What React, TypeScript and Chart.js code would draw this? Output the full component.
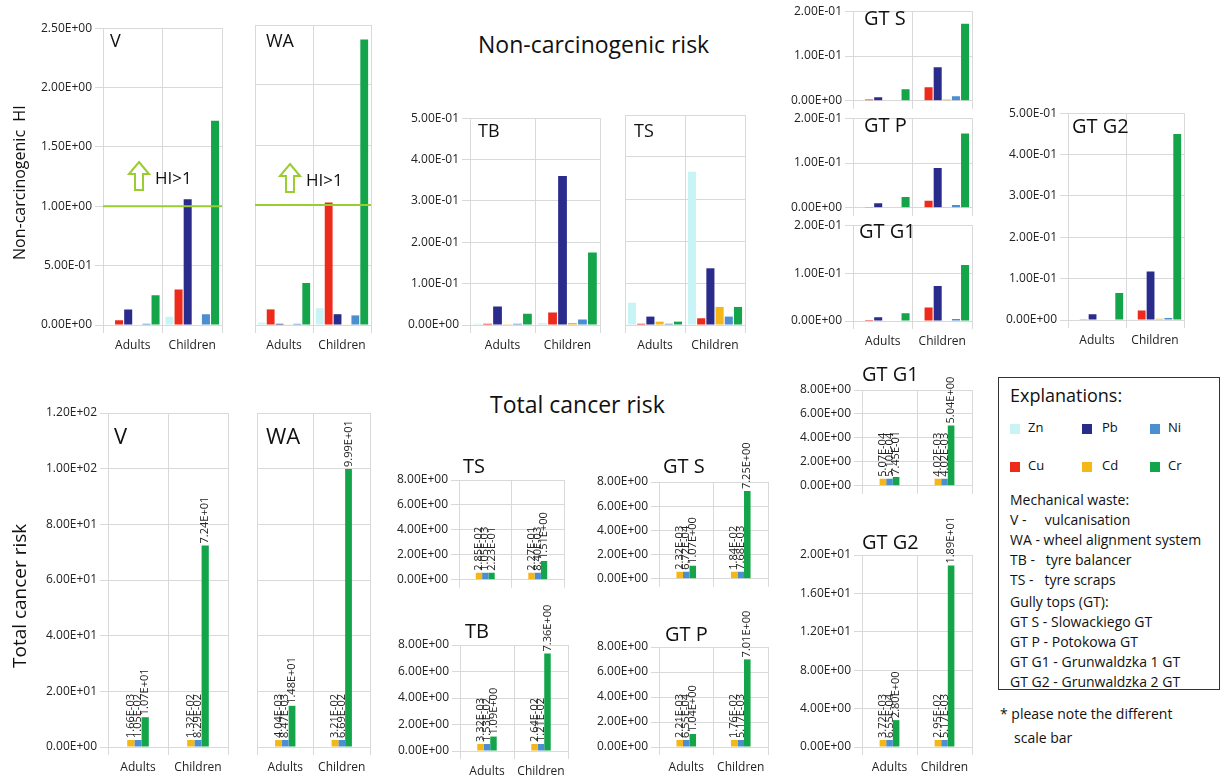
import { useEffect, useRef } from 'react';
import Chart from 'chart.js/auto';

const groups = ['Adults', 'Children'];

// non-carcinogenic metals, in bar order
const hiMetals = ['Zn', 'Cu', 'Pb', 'Cd', 'Ni', 'Cr'];
const crMetals = ['Cd', 'Ni', 'Cr'];
const colors: Record<string, string> = {
  Zn: '#c9f4f6', Cu: '#ee2a1b', Pb: '#2a2c8c', Cd: '#f5b618', Ni: '#4b8fd0', Cr: '#14a54a',
};

// HI values [adults], [children]  (Zn, Cu, Pb, Cd, Ni, Cr)
const hiV = [[0, 0.04, 0.13, 0.005, 0.01, 0.25], [0.07, 0.3, 1.06, 0.005, 0.09, 1.72]];
const hiWA = [[0.02, 0.13, 0.01, 0.005, 0.01, 0.35], [0.14, 1.02, 0.09, 0.005, 0.08, 2.38]];
const hiTB = [[0.003, 0.003, 0.045, 0.002, 0.003, 0.027], [0.005, 0.03, 0.36, 0.005, 0.013, 0.175]];
const hiTS = [[0.053, 0.003, 0.02, 0.008, 0.003, 0.008], [0.365, 0.016, 0.135, 0.043, 0.02, 0.043]];
const hiGTS = [[0.001, 0.003, 0.008, 0.001, 0.001, 0.026], [0.001, 0.03, 0.075, 0.003, 0.01, 0.172]];
const hiGTP = [[0, 0.002, 0.01, 0, 0, 0.024], [0.001, 0.016, 0.089, 0.002, 0.006, 0.166]];
const hiGTG1 = [[0, 0.002, 0.008, 0, 0, 0.016], [0.001, 0.028, 0.073, 0, 0.004, 0.117]];
const hiGTG2 = [[0.001, 0.002, 0.014, 0.001, 0.001, 0.065], [0.002, 0.023, 0.117, 0.003, 0.005, 0.45]];

// cancer risk [adults], [children]  (Cd, Ni, Cr)
const crV = [[1.66e-3, 1.05e-2, 1.07e1], [1.32e-2, 8.29e-2, 7.24e1]];
const crWA = [[4.04e-3, 8.47e-3, 1.48e1], [3.21e-2, 6.69e-2, 9.99e1]];
const crTS = [[2.85e-2, 1.05e-3, 2.23e-1], [2.27e-1, 8.4e-3, 1.51]];
const crGTS = [[2.32e-3, 6.72e-4, 1.07], [1.84e-2, 7.68e-3, 7.25]];
const crTB = [[3.32e-3, 1.53e-2, 1.09], [2.64e-2, 1.21e-2, 7.36]];
const crGTP = [[2.21e-3, 6.55e-4, 1.04], [1.76e-2, 5.17e-3, 7.01]];
const crGTG1 = [[5.07e-4, 5.1e-4, 7.45e-1], [4.02e-3, 4.02e-3, 5.04]];
const crGTG2 = [[3.72e-3, 6.55e-4, 2.8], [2.95e-2, 5.17e-3, 1.89e1]];

const FONT = '"Open Sans", "Noto Sans", sans-serif';

function fmt(v: number) {
  const [m, e] = v.toExponential(2).split('e');
  const n = parseInt(e, 10);
  return m + 'E' + (n < 0 ? '-' : '+') + String(Math.abs(n)).padStart(2, '0');
}

const valueLabels = {
  id: 'valueLabels',
  afterDatasetsDraw(chart: any) {
    if (!chart.options.plugins.valueLabels?.display) return;
    const ctx = chart.ctx;
    ctx.save();
    ctx.font = '11px ' + FONT;
    ctx.fillStyle = '#222';
    ctx.textBaseline = 'middle';
    chart.data.datasets.forEach((ds: any, i: number) => {
      chart.getDatasetMeta(i).data.forEach((bar: any, j: number) => {
        ctx.save();
        ctx.translate(bar.x, bar.y - 2);
        ctx.rotate(-Math.PI / 2);
        ctx.fillText(fmt(ds.data[j]), 0, 0);
        ctx.restore();
      });
    });
    ctx.restore();
  },
};

const hiLine = {
  id: 'hiLine',
  afterDatasetsDraw(chart: any) {
    if (!chart.options.plugins.hiLine?.display) return;
    const y = chart.scales.y.getPixelForValue(1);
    const ctx = chart.ctx;
    ctx.save();
    ctx.strokeStyle = '#9acd32';
    ctx.lineWidth = 2;
    ctx.beginPath();
    ctx.moveTo(chart.chartArea.left, y);
    ctx.lineTo(chart.chartArea.right, y);
    ctx.stroke();
    ctx.restore();
  },
};

interface PanelProps {
  x: number; y: number; w: number; h: number;
  tickW: number; max: number; step: number;
  metals: string[]; values: number[][];
  showX?: boolean; cancer?: boolean; hi?: boolean;
}

function Panel({ x, y, w, h, tickW, max, step, metals, values, showX = true, cancer = false, hi = false }: PanelProps) {
  const ref = useRef<HTMLCanvasElement>(null);
  const padT = cancer ? 50 : 7;
  const padR = 3;
  const xH = showX ? 26 : 4;
  useEffect(() => {
    if (!ref.current) return;
    const chart = new Chart(ref.current, {
      type: 'bar',
      data: {
        labels: groups,
        datasets: metals.map((m, i) => ({
          label: m,
          data: [values[0][i], values[1][i]],
          backgroundColor: colors[m],
          borderColor: colors[m],
          minBarLength: cancer ? 7 : 0,
          categoryPercentage: cancer ? 0.36 : 0.92,
          barPercentage: cancer ? 1 : 0.88,
        })),
      },
      plugins: [valueLabels, hiLine],
      options: {
        animation: false,
        responsive: false,
        layout: { padding: { top: padT, right: padR, left: 0, bottom: 0 } },
        plugins: {
          legend: { display: false },
          tooltip: { enabled: false },
          valueLabels: { display: cancer },
          hiLine: { display: hi },
        } as any,
        scales: {
          x: {
            grid: { color: '#d9d9d9', offset: true },
            border: { color: '#d9d9d9' },
            ticks: { display: showX, color: '#222', font: { family: FONT, size: 12 }, padding: 5 },
            afterFit: (s: any) => { s.height = xH; },
          },
          y: {
            min: 0, max,
            grid: { color: '#d9d9d9' },
            border: { color: '#d9d9d9' },
            ticks: {
              display: tickW > 0, stepSize: step, color: '#222',
              font: { family: FONT, size: 12 }, callback: (v: any) => fmt(Number(v)),
            },
            afterFit: (s: any) => { s.width = tickW; },
          },
        },
      },
    });
    return () => chart.destroy();
  }, []);
  return (
    <canvas
      ref={ref}
      width={w + tickW + padR}
      height={h + padT + xH}
      style={{ position: 'absolute', left: x - tickW, top: y - padT }}
    />
  );
}

const txt = (left: number, top: number, size: number, s: string, extra: any = {}) => (
  <div style={{ position: 'absolute', left, top, fontSize: size, fontFamily: FONT, color: '#111', whiteSpace: 'pre', ...extra }}>{s}</div>
);

function Arrow({ left, top }: { left: number; top: number }) {
  return (
    <svg style={{ position: 'absolute', left, top }} width="24" height="32">
      <polygon points="12,2 22,14 16,14 16,30 8,30 8,14 2,14" fill="none" stroke="#9acd32" strokeWidth="2" />
    </svg>
  );
}

function Sw({ left, top, c }: { left: number; top: number; c: string }) {
  return <div style={{ position: 'absolute', left, top, width: 10, height: 10, background: colors[c] }} />;
}

export default function App() {
  return (
    <div style={{ position: 'fixed', left: 0, top: 0, width: 1224, height: 776, background: '#fff', overflow: 'hidden' }}>
      {/* non-carcinogenic */}
      <Panel x={103} y={25} w={119} h={300} tickW={76} max={2.5} step={0.5} metals={hiMetals} values={hiV} hi />
      <Panel x={255} y={25} w={116} h={300} tickW={0} max={2.5} step={0.5} metals={hiMetals} values={hiWA} hi />
      <Panel x={470} y={115} w={130} h={210} tickW={76} max={0.5} step={0.1} metals={hiMetals} values={hiTB} />
      <Panel x={625} y={115} w={120} h={210} tickW={0} max={0.5} step={0.1} metals={hiMetals} values={hiTS} />
      <Panel x={853} y={8} w={119} h={99} tickW={76} max={0.2} step={0.1} metals={hiMetals} values={hiGTS} showX={false} />
      <Panel x={853} y={115} w={119} h={99} tickW={76} max={0.2} step={0.1} metals={hiMetals} values={hiGTP} showX={false} />
      <Panel x={853} y={222} w={119} h={99} tickW={76} max={0.2} step={0.1} metals={hiMetals} values={hiGTG1} />
      <Panel x={1068} y={110} w={116} h={210} tickW={76} max={0.5} step={0.1} metals={hiMetals} values={hiGTG2} />

      {/* cancer */}
      <Panel x={108} y={413} w={120} h={334} tickW={76} max={120} step={20} metals={crMetals} values={crV} cancer />
      <Panel x={257} y={413} w={113} h={334} tickW={0} max={120} step={20} metals={crMetals} values={crWA} cancer />
      <Panel x={459} y={480} w={105} h={106} tickW={76} max={8} step={2} metals={crMetals} values={crTS} cancer showX={false} />
      <Panel x={659} y={482} w={109} h={103} tickW={76} max={8} step={2} metals={crMetals} values={crGTS} cancer showX={false} />
      <Panel x={460} y={645} w={108} h={106} tickW={76} max={8} step={2} metals={crMetals} values={crTB} cancer />
      <Panel x={659} y={647} w={109} h={100} tickW={76} max={8} step={2} metals={crMetals} values={crGTP} cancer />
      <Panel x={862} y={390} w={110} h={102} tickW={76} max={8} step={2} metals={crMetals} values={crGTG1} cancer showX={false} />
      <Panel x={862} y={555} w={110} h={192} tickW={76} max={20} step={4} metals={crMetals} values={crGTG2} cancer />

      {txt(478, 28, 23, 'Non-carcinogenic risk')}
      {txt(490, 388, 23, 'Total cancer risk')}
      {txt(8, 260, 16, 'Non-carcinogenic  HI', { transform: 'rotate(-90deg)', transformOrigin: 'left top' })}
      {txt(6, 668, 19, 'Total cancer risk', { transform: 'rotate(-90deg)', transformOrigin: 'left top' })}

      {txt(110, 28, 18, 'V')}
      {txt(266, 28, 18, 'WA')}
      {txt(478, 118, 18, 'TB')}
      {txt(634, 118, 18, 'TS')}
      {txt(864, 4, 20, 'GT S')}
      {txt(864, 111, 20, 'GT P')}
      {txt(859, 217, 20, 'GT G1')}
      {txt(1072, 112, 20, 'GT G2')}
      <Arrow left={127} top={160} />
      {txt(155, 166, 17, 'HI>1')}
      <Arrow left={278} top={162} />
      {txt(306, 168, 17, 'HI>1')}

      {txt(114, 420, 22, 'V')}
      {txt(266, 420, 22, 'WA')}
      {txt(463, 452, 20, 'TS')}
      {txt(663, 452, 20, 'GT S')}
      {txt(465, 617, 20, 'TB')}
      {txt(665, 620, 20, 'GT P')}
      {txt(862, 360, 20, 'GT G1')}
      {txt(862, 528, 20, 'GT G2')}

      {/* legend box */}
      <div style={{ position: 'absolute', left: 998, top: 377, width: 222, height: 313, border: '1px solid #333', boxSizing: 'border-box' }} />
      {txt(1010, 383, 18, 'Explanations:')}
      <Sw left={1010} top={424} c="Zn" />{txt(1028, 418, 13, 'Zn')}
      <Sw left={1082} top={424} c="Pb" />{txt(1102, 418, 13, 'Pb')}
      <Sw left={1150} top={424} c="Ni" />{txt(1168, 418, 13, 'Ni')}
      <Sw left={1010} top={462} c="Cu" />{txt(1028, 456, 13, 'Cu')}
      <Sw left={1082} top={462} c="Cd" />{txt(1102, 456, 13, 'Cd')}
      <Sw left={1150} top={462} c="Cr" />{txt(1168, 456, 13, 'Cr')}
      {txt(1010, 490, 14, 'Mechanical waste:')}
      {txt(1010, 510, 14, 'V -     vulcanisation')}
      {txt(1010, 530, 14, 'WA - wheel alignment system')}
      {txt(1010, 550, 14, 'TB -   tyre balancer')}
      {txt(1010, 570, 14, 'TS -   tyre scraps')}
      {txt(1010, 592, 14, 'Gully tops (GT):')}
      {txt(1010, 612, 14, 'GT S - Slowackiego GT')}
      {txt(1010, 632, 14, 'GT P - Potokowa GT')}
      {txt(1010, 652, 14, 'GT G1 - Grunwaldzka 1 GT')}
      {txt(1010, 672, 14, 'GT G2 - Grunwaldzka 2 GT')}
      {txt(1000, 704, 14, '* please note the different')}
      {txt(1014, 728, 14, 'scale bar')}
    </div>
  );
}
